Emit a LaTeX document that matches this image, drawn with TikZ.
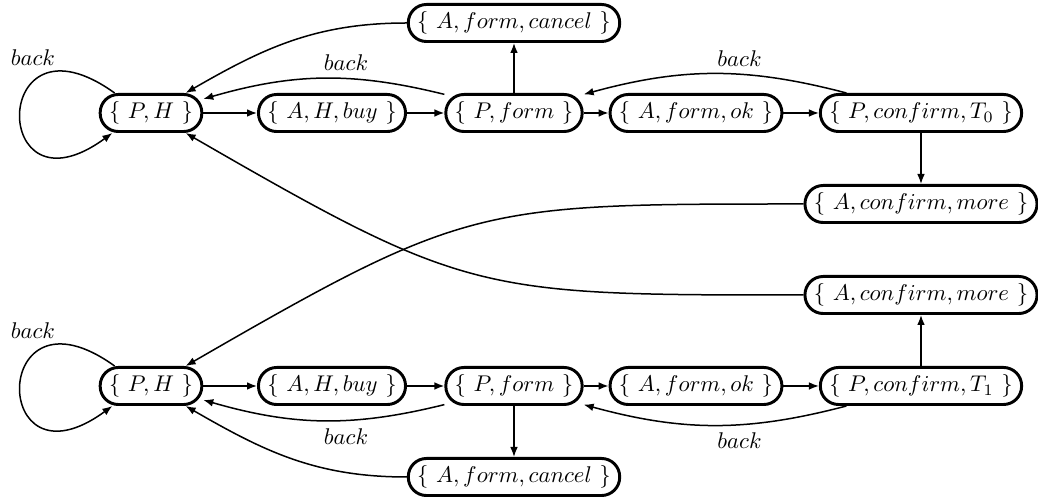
\documentclass[tikz,border=0pt]{standalone}
\usetikzlibrary{arrows.meta}
\begin{document}
\begin{tikzpicture}[x=0.44pt, y=0.44pt,
  state/.style={draw, line width=1.3pt, rounded corners=8pt, inner xsep=3.9pt, inner ysep=3pt, minimum height=16.3pt},
  edge/.style={line width=0.66pt, -{Latex[length=4.4pt,width=3.4pt]}}]
\useasboundingbox (0,0) rectangle (1038,499);
% top row
\node[state] (P1) at (151,386) {$\{\ P, H\ \}$};
\node[state] (A1) at (332,386) {$\{\ A, H, buy\ \}$};
\node[state] (F1) at (514,386) {$\{\ P, form\ \}$};
\node[state] (K1) at (696,386) {$\{\ A, form, ok\ \}$};
\node[state] (C1) at (921,386) {$\{\ P, confirm, T_0\ \}$};
\node[state] (X1) at (514,476) {$\{\ A, form, cancel\ \}$};
\node[state] (M1) at (921,295) {$\{\ A, confirm, more\ \}$};
% bottom row
\node[state] (P2) at (151,113) {$\{\ P, H\ \}$};
\node[state] (A2) at (332,113) {$\{\ A, H, buy\ \}$};
\node[state] (F2) at (514,113) {$\{\ P, form\ \}$};
\node[state] (K2) at (696,113) {$\{\ A, form, ok\ \}$};
\node[state] (C2) at (921,113) {$\{\ P, confirm, T_1\ \}$};
\node[state] (X2) at (514,22) {$\{\ A, form, cancel\ \}$};
\node[state] (M2) at (921,204) {$\{\ A, confirm, more\ \}$};
% top edges
\draw[edge] ([xshift=7pt]P1.north west) .. controls +(-125,90) and +(-123,-90) .. ([xshift=6pt]P1.south west) node[pos=0.25, above, xshift=-5pt] {$back$};
\draw[edge] (P1) -- (A1);
\draw[edge] (A1) -- (F1);
\draw[edge] (F1) -- (K1);
\draw[edge] (K1) -- (C1);
\draw[edge] (F1) -- (X1);
\draw[edge] (C1) -- (M1);
\draw[edge] (F1) to[bend right=15] node[pos=0.4, above] {$back$} (P1);
\draw[edge] (C1) to[bend right=15] node[pos=0.4, above] {$back$} (F1);
\draw[edge] (X1) to[out=180, in=30] (P1);
\draw[edge] (M1) to[out=180, in=30, looseness=1.3] (P2);
\draw[edge] (M2) to[out=180, in=-30, looseness=1.3] (P1);
% bottom edges
\draw[edge] ([xshift=7pt]P2.north west) .. controls +(-125,90) and +(-123,-90) .. ([xshift=6pt]P2.south west) node[pos=0.25, above, xshift=-5pt] {$back$};
\draw[edge] (P2) -- (A2);
\draw[edge] (A2) -- (F2);
\draw[edge] (F2) -- (K2);
\draw[edge] (K2) -- (C2);
\draw[edge] (F2) -- (X2);
\draw[edge] (C2) -- (M2);
\draw[edge] (F2) to[bend left=15] node[pos=0.4, below] {$back$} (P2);
\draw[edge] (C2) to[bend left=15] node[pos=0.4, below] {$back$} (F2);
\draw[edge] (X2) to[out=180, in=-30] (P2);
\end{tikzpicture}
\end{document}
